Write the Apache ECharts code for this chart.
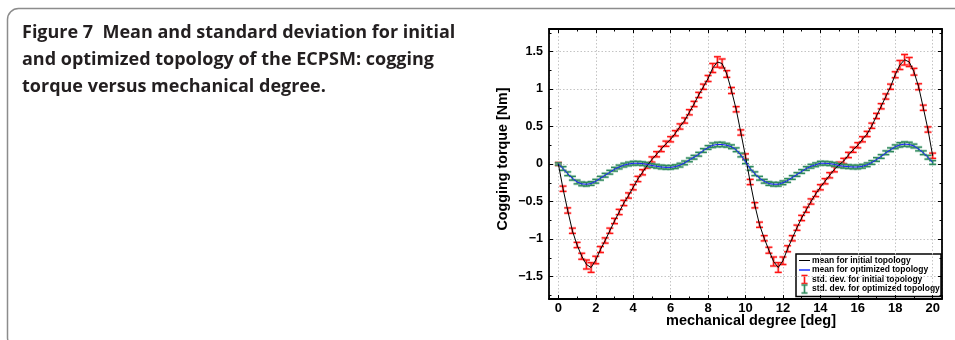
<!DOCTYPE html>
<html>
<head>
<meta charset="utf-8">
<script src="https://cdn.jsdelivr.net/npm/echarts@6.0.0/dist/echarts.min.js"></script>
<style>
html,body{margin:0;padding:0;background:#fff;}
#chart{width:955px;height:340px;}
</style>
</head>
<body>
<div id="chart"></div>
<script>
// ---- data ----
const degrees = [0,0.25,0.5,0.75,1,1.25,1.5,1.75,2,2.25,2.5,2.75,3,3.25,3.5,3.75,4,4.25,4.5,4.75,
  5,5.25,5.5,5.75,6,6.25,6.5,6.75,7,7.25,7.5,7.75,8,8.25,8.5,8.75,9,9.25,9.5,9.75,
  10,10.25,10.5,10.75,11,11.25,11.5,11.75,12,12.25,12.5,12.75,13,13.25,13.5,13.75,14,14.25,14.5,14.75,
  15,15.25,15.5,15.75,16,16.25,16.5,16.75,17,17.25,17.5,17.75,18,18.25,18.5,18.75,19,19.25,19.5,19.75,20];

const meanInitial = [0.00,-0.33,-0.62,-0.89,-1.08,-1.23,-1.34,-1.38,-1.28,-1.14,
  -1.02,-0.89,-0.76,-0.64,-0.52,-0.42,-0.31,-0.20,-0.11,-0.02,
  0.06,0.13,0.20,0.27,0.33,0.41,0.50,0.58,0.69,0.80,
  0.92,1.03,1.14,1.28,1.36,1.34,1.20,0.98,0.73,0.42,
  0.10,-0.24,-0.55,-0.81,-0.99,-1.15,-1.30,-1.38,-1.29,-1.13,
  -0.99,-0.85,-0.72,-0.61,-0.50,-0.40,-0.31,-0.23,-0.15,-0.07,
  -0.01,0.04,0.12,0.19,0.25,0.33,0.40,0.51,0.64,0.77,
  0.90,1.03,1.19,1.32,1.39,1.36,1.23,1.03,0.75,0.46,
  0.11];

const stdInitial = [0.02,0.035,0.035,0.035,0.035,0.04,0.06,0.065,0.05,0.04,
  0.035,0.035,0.035,0.035,0.035,0.035,0.035,0.035,0.035,0.035,
  0.035,0.035,0.035,0.035,0.035,0.035,0.035,0.035,0.035,0.035,
  0.035,0.035,0.04,0.06,0.07,0.06,0.045,0.04,0.035,0.035,
  0.035,0.035,0.035,0.035,0.035,0.04,0.06,0.065,0.05,0.04,
  0.035,0.035,0.035,0.035,0.035,0.035,0.035,0.035,0.035,0.035,
  0.035,0.035,0.035,0.035,0.035,0.035,0.035,0.035,0.035,0.035,
  0.035,0.035,0.04,0.06,0.07,0.06,0.045,0.04,0.035,0.035,
  0.035];

const meanOptimized = [0.00,-0.06,-0.13,-0.19,-0.24,-0.265,-0.27,-0.26,-0.23,-0.19,
  -0.15,-0.11,-0.07,-0.04,-0.015,0.00,0.01,0.01,0.005,-0.005,
  -0.02,-0.03,-0.04,-0.045,-0.045,-0.035,-0.015,0.015,0.055,0.09,
  0.13,0.18,0.22,0.25,0.26,0.26,0.25,0.23,0.19,0.12,
  0.03,-0.06,-0.13,-0.19,-0.23,-0.26,-0.27,-0.27,-0.25,-0.22,
  -0.18,-0.14,-0.10,-0.06,-0.03,-0.01,0.01,0.01,0.005,-0.005,
  -0.02,-0.03,-0.035,-0.04,-0.04,-0.03,-0.01,0.02,0.06,0.10,
  0.15,0.19,0.23,0.255,0.265,0.26,0.24,0.20,0.15,0.09,
  0.02];

const stdOptimized = [0.015,0.025,0.025,0.025,0.025,0.025,0.025,0.025,0.025,0.025,
  0.025,0.025,0.025,0.025,0.025,0.025,0.025,0.025,0.025,0.025,
  0.025,0.025,0.025,0.025,0.025,0.025,0.025,0.025,0.025,0.025,
  0.025,0.025,0.025,0.03,0.03,0.03,0.025,0.025,0.025,0.025,
  0.025,0.025,0.025,0.025,0.025,0.025,0.025,0.025,0.025,0.025,
  0.025,0.025,0.025,0.025,0.025,0.025,0.025,0.025,0.025,0.025,
  0.025,0.025,0.025,0.025,0.025,0.025,0.025,0.025,0.025,0.025,
  0.025,0.025,0.025,0.03,0.03,0.03,0.025,0.025,0.025,0.025,
  0.025];

const seriesNames = ['mean for initial topology','mean for optimized topology',
  'std. dev. for initial topology','std. dev. for optimized topology'];
const captionLines = ['Figure 7  Mean and standard deviation for initial',
  'and optimized topology of the ECPSM: cogging',
  'torque versus mechanical degree.'];
const xTitle = 'mechanical degree [deg]';
const yTitle = 'Cogging torque [Nm]';

// ---- build ----
const chart = echarts.init(document.getElementById('chart'), null, {renderer:'canvas'});
const lineInit = degrees.map((d,i)=>[d, meanInitial[i]]);
const lineOpt = degrees.map((d,i)=>[d, meanOptimized[i]]);
const barsInit = degrees.map((d,i)=>[d, meanInitial[i]-stdInitial[i], meanInitial[i]+stdInitial[i]]);
const barsOpt = degrees.map((d,i)=>[d, meanOptimized[i]-stdOptimized[i], meanOptimized[i]+stdOptimized[i]]);

const RED = '#ff1414';
const GREEN = '#2f8a5c';
const RED_HALO = 'rgba(255,120,120,0.45)';
const GREEN_HALO = 'rgba(120,180,150,0.45)';

function errShapes(a, b, hw, color, halo, width){
  const mk = (st) => [
    {type:'line', shape:{x1:a[0],y1:a[1],x2:b[0],y2:b[1]}, style:st},
    {type:'line', shape:{x1:a[0]-hw,y1:a[1],x2:a[0]+hw,y2:a[1]}, style:st},
    {type:'line', shape:{x1:b[0]-hw,y1:b[1],x2:b[0]+hw,y2:b[1]}, style:st}
  ];
  return mk({stroke: halo, lineWidth: width+1.6, fill: null}).concat(mk({stroke: color, lineWidth: width, fill: null}));
}
function errRenderer(color, halo, width){
  return function(params, api){
    const x = api.value(0), lo = api.value(1), hi = api.value(2);
    const a = api.coord([x, lo]), b = api.coord([x, hi]);
    return {type:'group', children: errShapes(a, b, 3.5, color, halo, width)};
  };
}

const FONT = 'Liberation Sans';
const tickCommon = {inside:true, length:4, lineStyle:{color:'#000', width:1}};
const minorCommon = {show:true, splitNumber:2, length:2.5, lineStyle:{color:'#000', width:1}};
const axisLineCommon = {show:true, onZero:false, lineStyle:{color:'#000', width:1.8}};
const splitCommon = {show:true, lineStyle:{color:'#c4c4c4', width:1, type:[1.5,2]}};
const minus = v => String(v).replace('-', '\u2212');

// legend drawn as graphic (box + rows)
const LG = {x:796, y:254, w:145, h:42.5, rowY:[260.5, 270, 279.5, 289], textX:812, iconX0:799, iconX1:810};
const legendFont = 'bold 8.5px "Liberation Sans"';
const legendChildren = [
  {type:'rect', shape:{x:LG.x, y:LG.y, width:LG.w, height:LG.h}, style:{fill:'#fff', stroke:'#000', lineWidth:1.5}},
  {type:'line', shape:{x1:LG.iconX0, y1:LG.rowY[0], x2:LG.iconX1, y2:LG.rowY[0]}, style:{stroke:'#000', lineWidth:1}},
  {type:'line', shape:{x1:LG.iconX0, y1:LG.rowY[1], x2:LG.iconX1, y2:LG.rowY[1]}, style:{stroke:'#5566ff', lineWidth:2}}
].concat(
  errShapes([804.5, LG.rowY[2]+4], [804.5, LG.rowY[2]-4], 3, RED, RED_HALO, 1.2),
  errShapes([804.5, LG.rowY[3]+4], [804.5, LG.rowY[3]-4], 3, GREEN, GREEN_HALO, 1.2),
  seriesNames.map((n,i)=>({type:'text', x:LG.textX, y:LG.rowY[i], style:{text:n, font:legendFont, fill:'#000', verticalAlign:'middle'}}))
);

const capFont = 'bold 18px "Open Sans"';
const option = {
  animation:false,
  backgroundColor:'#fff',
  grid:{left:549, top:29, width:393, height:270, containLabel:false},
  xAxis:[
    {type:'value', min:-0.5, max:20.5, splitNumber:10, position:'bottom',
     axisLine:axisLineCommon, axisTick:tickCommon, minorTick:minorCommon, splitLine:splitCommon,
     axisLabel:{showMinLabel:false, showMaxLabel:false, color:'#000', fontFamily:FONT, fontWeight:'bold', fontSize:13, margin:3, formatter:minus}},
    {type:'value', min:-0.5, max:20.5, splitNumber:10, position:'top',
     axisLine:axisLineCommon, axisTick:tickCommon, minorTick:minorCommon, splitLine:{show:false}, axisLabel:{show:false}}
  ],
  yAxis:[
    {type:'value', min:-1.8, max:1.8, splitNumber:7, position:'left',
     axisLine:axisLineCommon, axisTick:tickCommon, minorTick:minorCommon, splitLine:splitCommon,
     axisLabel:{showMinLabel:false, showMaxLabel:false, color:'#000', fontFamily:FONT, fontWeight:'bold', fontSize:12.5, margin:6, formatter:minus}},
    {type:'value', min:-1.8, max:1.8, splitNumber:7, position:'right',
     axisLine:axisLineCommon, axisTick:tickCommon, minorTick:minorCommon, splitLine:{show:false}, axisLabel:{show:false}}
  ],
  graphic:[
    {type:'rect', shape:{x:7.5, y:8.5, width:1000, height:340, r:11}, style:{fill:null, stroke:'#8c8c8c', lineWidth:1.5}, silent:true, z:-10},
    {type:'text', x:22, y:33, style:{text:captionLines[0], font:capFont, fill:'#231f20', verticalAlign:'middle'}},
    {type:'text', x:22, y:60, style:{text:captionLines[1], font:capFont, fill:'#231f20', verticalAlign:'middle'}},
    {type:'text', x:22, y:87, style:{text:captionLines[2], font:capFont, fill:'#231f20', verticalAlign:'middle'}},
    {type:'text', x:751, y:321, style:{text:xTitle, font:'bold 14.5px "Liberation Sans"', fill:'#000', align:'center', verticalAlign:'middle'}},
    {type:'text', x:503.5, y:159, rotation:Math.PI/2, style:{text:yTitle, font:'bold 14.3px "Liberation Sans"', fill:'#000', align:'center', verticalAlign:'middle'}},
    {type:'group', z:100, children:legendChildren}
  ],
  series:[
    {name:seriesNames[2], type:'custom', renderItem:errRenderer(RED,RED_HALO,1.3), data:barsInit,
     encode:{x:0, y:[1,2]}, itemStyle:{color:RED}, z:2},
    {name:seriesNames[3], type:'custom', renderItem:errRenderer(GREEN,GREEN_HALO,1.3), data:barsOpt,
     encode:{x:0, y:[1,2]}, itemStyle:{color:GREEN}, z:2},
    {name:seriesNames[0], type:'line', data:lineInit, symbol:'none', smooth:false,
     lineStyle:{color:'#000', width:1}, itemStyle:{color:'#000'}, z:3},
    {name:seriesNames[1], type:'line', data:lineOpt, symbol:'none', smooth:false,
     lineStyle:{color:'#1a1aff', width:1}, itemStyle:{color:'#4a5cff'}, z:3}
  ]
};
chart.setOption(option);
</script>
</body>
</html>
